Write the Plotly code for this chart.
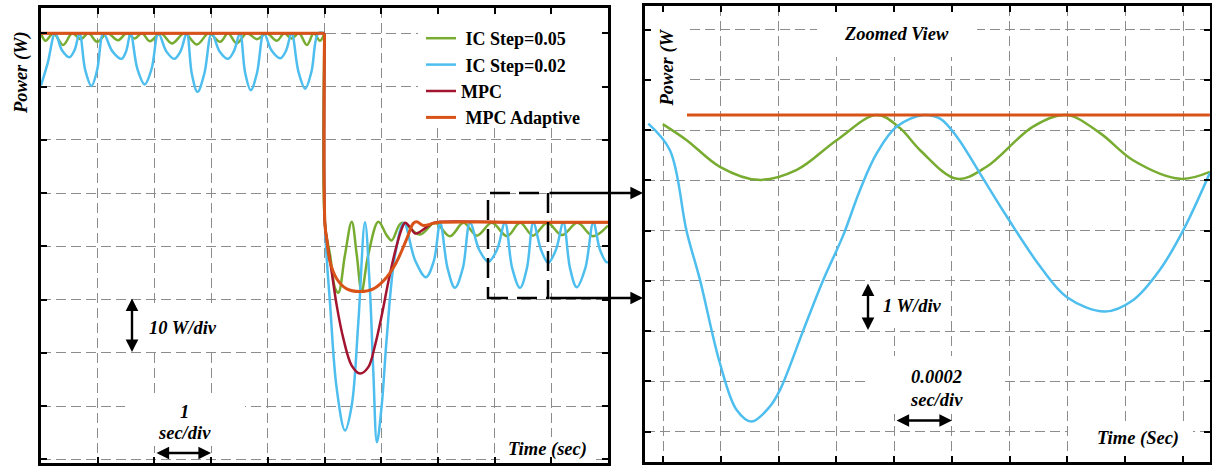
import plotly.graph_objects as go

W, H = 1212, 468

# ---------------- main view data (time in s, power in W) ----------------
green_pre_t = [0.00, 0.08, 0.22, 0.39, 0.55, 0.70, 0.84, 0.99, 1.17, 1.36, 1.51, 1.65, 1.78, 1.92, 2.11, 2.31,
               2.53, 2.75, 2.96, 3.16, 3.30, 3.45, 3.63, 3.81, 3.98, 4.16, 4.29, 4.42, 4.55, 4.69, 4.81, 4.92, 5.00]
green_pre_p = [90.0, 88.6, 90.0, 87.8, 90.0, 88.9, 90.0, 88.4, 90.0, 88.7, 90.0, 89.0, 90.0, 88.5, 90.0, 88.1,
               90.0, 87.9, 90.0, 88.4, 90.0, 88.1, 90.0, 88.9, 90.0, 88.6, 90.0, 89.0, 90.0, 87.8, 90.0, 88.6, 90.0]
green_post_t = [5.00, 5.009, 5.10, 5.19, 5.245, 5.36, 5.48, 5.57, 5.655, 5.77, 5.95, 6.10, 6.185, 6.36, 6.684,
                6.95, 7.213, 7.45, 7.69, 7.95, 8.219, 8.45, 8.677, 8.93, 9.189, 9.46, 9.735, 10.0]
green_post_p = [90.0, 54.0, 48.3, 42.0, 41.3, 48.3, 54.6, 48.3, 41.5, 48.3, 54.6, 52.0, 51.1, 54.4, 52.2,
                54.4, 51.9, 54.4, 52.0, 54.4, 51.9, 54.4, 52.0, 54.4, 52.1, 54.4, 51.9, 53.9]

blue_pre_t = [0.00, 0.12, 0.25, 0.37, 0.50, 0.59, 0.68, 0.78, 0.89, 0.99, 1.10, 1.26, 1.42, 1.50, 1.58, 1.70,
              1.83, 1.95, 2.07, 2.21, 2.35, 2.46, 2.57, 2.66, 2.76, 2.88, 3.01, 3.15, 3.30, 3.40, 3.51, 3.60,
              3.70, 3.81, 3.93, 4.07, 4.22, 4.32, 4.42, 4.54, 4.66, 4.77, 4.89, 5.00]
blue_pre_p = [80.2, 84.5, 90.0, 86.8, 85.5, 86.8, 90.0, 83.1, 80.1, 83.1, 90.0, 86.6, 85.2, 86.6, 90.0, 83.3,
              80.4, 83.3, 90.0, 86.6, 85.2, 86.6, 90.0, 82.4, 79.0, 82.4, 90.0, 86.6, 85.2, 86.6, 90.0, 82.6,
              79.3, 82.6, 90.0, 86.7, 85.3, 86.7, 90.0, 82.8, 79.6, 82.8, 90.0, 90.0]
blue_post_t = [5.00, 5.009, 5.10, 5.215, 5.362, 5.48, 5.597, 5.714, 5.80, 5.861, 5.925, 6.009, 6.097, 6.243,
               6.40, 6.60, 6.79, 6.93, 7.04, 7.17, 7.30, 7.44, 7.566, 7.73, 7.889, 8.04, 8.183, 8.31, 8.448,
               8.57, 8.683, 8.82, 8.947, 9.08, 9.212, 9.33, 9.448, 9.60, 9.741, 9.86, 9.977, 10.0]
blue_post_p = [90.0, 54.0, 38.9, 23.3, 15.4, 20.1, 35.8, 54.5, 42.0, 26.4, 13.2, 20.1, 32.7, 48.3,
               54.4, 47.3, 44.2, 47.3, 54.4, 45.9, 42.2, 45.9, 54.4, 49.3, 47.1, 49.3, 54.4, 45.9, 42.2,
               45.9, 54.4, 49.3, 46.9, 49.3, 54.4, 45.9, 42.3, 45.9, 54.4, 49.3, 47.0, 47.1]

mpc_pre_t = [0.0, 5.0]
mpc_pre_p = [90.0, 90.0]
mpc_post_t = [5.00, 5.009, 5.039, 5.127, 5.215, 5.332, 5.48, 5.626, 5.772, 5.891, 6.009, 6.125, 6.243, 6.362,
              6.42, 6.508, 6.596, 6.684, 6.802, 6.919, 7.037, 8.5, 10.0]
mpc_post_p = [90.0, 54.0, 51.4, 45.2, 38.9, 32.7, 27.6, 26.1, 27.3, 31.4, 37.0, 43.3, 48.9, 53.3,
              54.4, 53.6, 52.4, 52.7, 53.6, 54.4, 54.6, 54.5, 54.5]

ada_pre_t = [0.0, 5.0]
ada_pre_p = [90.0, 90.0]
ada_post_t = [5.00, 5.009, 5.039, 5.097, 5.215, 5.392, 5.626, 5.861, 6.097, 6.273, 6.45, 6.566, 6.626, 6.743,
              6.919, 7.037, 8.5, 10.0]
ada_post_p = [90.0, 54.0, 51.4, 47.1, 43.9, 42.0, 41.5, 42.0, 44.2, 47.1, 51.4, 54.3, 54.6, 53.9,
              54.3, 54.5, 54.5, 54.5]

# ---------------- zoomed view data ----------------
zoom_blue_t = [0.000149, 0.000224, 0.000282, 0.000328, 0.000397, 0.000455, 0.000507, 0.000570, 0.000605,
               0.000686, 0.000755, 0.000824, 0.000882, 0.000940, 0.001009, 0.001101, 0.001159, 0.001217,
               0.001297, 0.001390, 0.001505, 0.001597, 0.001730, 0.001828, 0.001920, 0.002001, 0.002093]
zoom_blue_p = [54.33, 53.80, 52.18, 51.22, 49.56, 48.63, 48.40, 48.70, 49.03, 50.22, 51.22, 52.11, 53.01,
               53.74, 54.27, 54.50, 54.43, 54.07, 53.34, 52.48, 51.49, 50.88, 50.59, 50.82, 51.42, 52.21, 53.35]
zoom_green_t = [0.000199, 0.000282, 0.000397, 0.000530, 0.000663, 0.000801, 0.000940, 0.001020, 0.001090,
                0.001217, 0.001320, 0.001481, 0.001597, 0.001713, 0.001827, 0.001990, 0.002093]
zoom_green_p = [54.32, 54.00, 53.47, 53.21, 53.41, 54.00, 54.50, 54.24, 53.80, 53.23, 53.47, 54.27, 54.50,
                54.14, 53.60, 53.23, 53.37]
zoom_ada_t = [0.000283, 0.002093]
zoom_ada_p = [54.5, 54.5]

# ticks / gridlines
main_xticks = [0, 1, 2, 3, 4, 5, 6, 7, 8, 9, 10]
main_yticks = [10, 20, 30, 40, 50, 60, 70, 80, 90]
main_yticktext = ["<b><i>10</i></b>", "", "", "", "", "", "", "", ""]
zoom_xticks = [0.0002, 0.0004, 0.0006, 0.0008, 0.0010, 0.0012, 0.0014, 0.0016, 0.0018, 0.0020]
zoom_yticks = [48.2, 49.2, 50.2, 51.2, 52.2, 53.2, 54.2, 55.2, 56.2]

names = ["\u00a0IC Step=0.05", "\u00a0IC Step=0.02", "MPC", "\u00a0MPC Adaptive"]

GREEN, BLUE, RED, ORANGE = "#77AC30", "#4DBEEE", "#A2142F", "#D95319"
FONT = "Liberation Serif"

MAIN_XR = [0, 10]
MAIN_YR = [9.3, 94.75]
ZOOM_XR = [0.0001377, 0.0020934]
ZOOM_YR = [47.595, 56.67]

fig = go.Figure()


def add(t, p, color, width, name=None, group=None, show=False, xa="x", ya="y"):
    fig.add_trace(go.Scatter(
        x=t, y=p, mode="lines", line=dict(color=color, width=width, shape="spline"),
        name=name, legendgroup=group, showlegend=show, xaxis=xa, yaxis=ya, hoverinfo="skip"))


add(green_pre_t, green_pre_p, GREEN, 2.5, "<b>" + names[0] + "</b>", "g", True)
add(blue_pre_t, blue_pre_p, BLUE, 2.5, "<b>" + names[1] + "</b>", "b", True)
add(mpc_pre_t, mpc_pre_p, RED, 2.5, "<b>" + names[2] + "</b>", "r", True)
add(ada_pre_t, ada_pre_p, ORANGE, 3, "<b>" + names[3] + "</b>", "o", True)
add(green_post_t, green_post_p, GREEN, 2.5, names[0], "g")
add(blue_post_t, blue_post_p, BLUE, 2.5, names[1], "b")
add(mpc_post_t, mpc_post_p, RED, 2.5, names[2], "r")
add(ada_post_t, ada_post_p, ORANGE, 3, names[3], "o")

add(zoom_green_t, zoom_green_p, GREEN, 2.5, names[0], "g", xa="x2", ya="y2")
add(zoom_blue_t, zoom_blue_p, BLUE, 2.5, names[1], "b", xa="x2", ya="y2")
add(zoom_ada_t, zoom_ada_p, ORANGE, 3, names[3], "o", xa="x2", ya="y2")

LP = (41, 608, 8, 463)     # left panel pixel box (l, r, t, b)
RP = (645, 1210, 6, 462)   # right panel pixel box


def px(x):
    return x / W


def py(y):
    return 1 - y / H


axis_common = dict(showline=True, linewidth=2.8, linecolor="black", mirror="ticks", ticks="inside",
                   ticklen=6, tickwidth=2, tickcolor="black", showgrid=True, gridcolor="#8c8c8c",
                   gridwidth=1.2, griddash="10px,5px", zeroline=False)

fig.update_layout(
    width=W, height=H, margin=dict(l=0, r=0, t=0, b=0),
    paper_bgcolor="white", plot_bgcolor="white",
    font=dict(family=FONT, color="black"),
    xaxis=dict(domain=[px(LP[0]), px(LP[1])], range=MAIN_XR, tickvals=main_xticks, showticklabels=False,
               anchor="y", **axis_common),
    yaxis=dict(domain=[py(LP[3]), py(LP[2])], range=MAIN_YR, tickvals=main_yticks,
               ticktext=main_yticktext, tickfont=dict(family=FONT, size=18.5, color="black"),
               ticklabelstandoff=8, anchor="x", **axis_common),
    xaxis2=dict(domain=[px(RP[0]), px(RP[1])], range=ZOOM_XR, tickvals=zoom_xticks,
                showticklabels=False, anchor="y2", **axis_common),
    yaxis2=dict(domain=[py(RP[3]), py(RP[2])], range=ZOOM_YR, tickvals=zoom_yticks,
                showticklabels=False, anchor="x2", **axis_common),
    legend=dict(x=px(421), y=py(20), xanchor="left", yanchor="top", bgcolor="rgba(0,0,0,0)",
                font=dict(family=FONT, size=18, color="black"), tracegroupgap=0, itemwidth=30),
    showlegend=True,
)


def cover(panel, xr, yr, x0, y0, x1, y1, xa, ya):
    """white patch between gridlines and traces, given in pixel box, mapped to axis data coords"""
    l, r, t, b = panel

    def fx(x):
        return xr[0] + (x - l) / (r - l) * (xr[1] - xr[0])

    def fy(y):
        return yr[1] - (y - t) / (b - t) * (yr[1] - yr[0])

    fig.add_shape(type="rect", xref=xa, yref=ya, x0=fx(x0), x1=fx(x1), y0=fy(y1), y1=fy(y0),
                  line=dict(width=0), fillcolor="white", layer="between")


for box in [(418, 10, 606, 123), (143, 306, 222, 348), (125, 393, 245, 446), (500, 437, 596, 460)]:
    cover(LP, MAIN_XR, MAIN_YR, *box, "x", "y")
for box in [(648, 8, 687, 121), (817, 8, 977, 57), (880, 285, 945, 328), (867, 356, 1000, 414),
            (1068, 421, 1193, 452)]:
    cover(RP, ZOOM_XR, ZOOM_YR, *box, "x2", "y2")

# dashed zoom box
fig.add_shape(type="rect", xref="paper", yref="paper", x0=px(488), x1=px(548), y0=py(298), y1=py(193),
              line=dict(color="black", width=2.5, dash="20px,9px"), layer="above")

TF = dict(family=FONT, size=18.5, color="black")


def label(text, x, y, angle=0):
    fig.add_annotation(text="<b><i>" + text + "</i></b>", x=px(x), y=py(y), xref="paper", yref="paper",
                       showarrow=False, font=TF, textangle=angle, xanchor="center", yanchor="middle")


label("Power (W)", 21, 73, -90)
label("10 W/div", 182.5, 327.5)
label("1", 184, 412)
label("sec/div", 184.5, 433)
label("Time (sec)", 547, 449.5)
label("Power (W", 667, 67.5, -90)
label("Zoomed View", 896.5, 34)
label("1 W/div", 912, 306)
label("0.0002", 936, 377)
label("sec/div", 936, 400)
label("Time (Sec)", 1137.5, 438)


def arrow(xh, yh, xt, yt, both=False):
    fig.add_annotation(text="", x=px(xh), y=py(yh), xref="paper", yref="paper", showarrow=True,
                       ax=xt - xh, ay=yt - yh, axref="pixel", ayref="pixel", arrowhead=2, arrowsize=1.05,
                       arrowwidth=2.4, arrowcolor="black", arrowside="end+start" if both else "end",
                       standoff=0, startstandoff=0)


arrow(643, 193, 548, 193)
arrow(643, 298, 548, 298)
arrow(132, 352, 132, 297, both=True)
arrow(211, 453, 155, 453, both=True)
arrow(868, 330, 868, 282, both=True)
arrow(952, 420.5, 895, 420.5, both=True)

fig.write_html("out.html")
